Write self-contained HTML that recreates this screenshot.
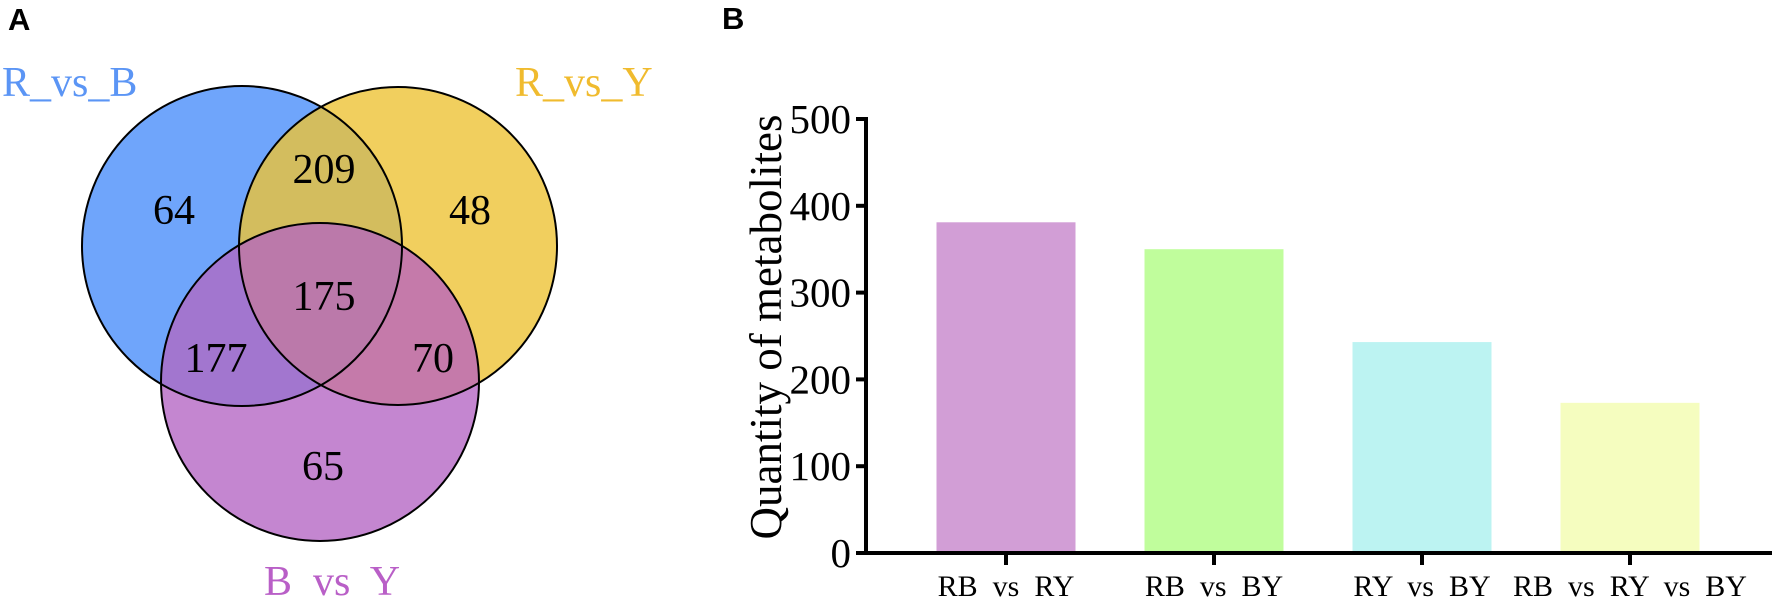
<!DOCTYPE html>
<html><head><meta charset="utf-8"><style>
html,body{margin:0;padding:0;background:#fff;}
svg{display:block;}
text{font-family:"Liberation Serif",serif;}
.pl{font-family:"Liberation Sans",sans-serif;font-weight:bold;font-size:31px;}
</style></head><body>
<svg id="fig" width="1772" height="599" viewBox="0 0 1772 599">
<defs>
<clipPath id="cR"><circle cx="242" cy="246" r="160"/></clipPath>
<clipPath id="cY"><circle cx="398" cy="246" r="159"/></clipPath>
<clipPath id="cP"><circle cx="320" cy="382" r="159"/></clipPath>
</defs>
<text class="pl" x="8" y="30">A</text>
<text class="pl" x="722" y="29">B</text>
<g>
<circle cx="242" cy="246" r="160" fill="#6fa5fb"/>
<circle cx="398" cy="246" r="159" fill="#f1cf5e"/>
<circle cx="320" cy="382" r="159" fill="#c486d0"/>
<circle cx="398" cy="246" r="159" fill="#d3bd5e" clip-path="url(#cR)"/>
<circle cx="320" cy="382" r="159" fill="#a276cf" clip-path="url(#cR)"/>
<circle cx="320" cy="382" r="159" fill="#c57aaa" clip-path="url(#cY)"/>
<g clip-path="url(#cR)"><circle cx="320" cy="382" r="159" fill="#bb79aa" clip-path="url(#cY)"/></g>
<g fill="none" stroke="#000" stroke-width="2">
<circle cx="242" cy="246" r="160"/><circle cx="398" cy="246" r="159"/><circle cx="320" cy="382" r="159"/>
</g>
<g font-size="42" text-anchor="middle" fill="#000">
<text x="174" y="224">64</text>
<text x="324" y="183">209</text>
<text x="470" y="224">48</text>
<text x="324" y="310">175</text>
<text x="216" y="372">177</text>
<text x="433" y="372">70</text>
<text x="323" y="480">65</text>
</g>
<text x="2" y="96" font-size="42" fill="#5b95f5">R_vs_B</text>
<text x="515" y="96" font-size="42" fill="#f0bb2e">R_vs_Y</text>
<text x="264" y="595" font-size="42" fill="#b95fc7" xml:space="preserve">B  vs  Y</text>
</g>
<g id="bars"></g>
</svg>
<script>
const categories = ["RB  vs  RY","RB  vs  BY","RY  vs  BY","RB  vs  RY  vs  BY"];
const values = [381, 350, 243, 173];
const barColors = ["#d29ed6","#c0fd9c","#bcf3f2","#f5fdbf"];
const yTicks = [0,100,200,300,400,500];

const NS="http://www.w3.org/2000/svg";
const g=document.getElementById('bars');
const x0=866, y0=553, y500=119, step=208, first=1006, bw=139;
const yScale=v=>y0-(v/500)*(y0-y500);
const xScale=i=>first+i*step;
function mk(tag,attrs){const e=document.createElementNS(NS,tag);for(const k in attrs)e.setAttribute(k,attrs[k]);g.appendChild(e);return e;}
values.forEach((v,i)=>{
  const r=mk('rect',{x:xScale(i)-bw/2,y:yScale(v),width:bw,height:y0-yScale(v),fill:barColors[i]});
  
  
});
const ya=mk('line',{x1:x0,y1:y500-2,x2:x0,y2:y0+2,stroke:'#000','stroke-width':4});


const xa=mk('line',{x1:x0-2,y1:y0,x2:1772,y2:y0,stroke:'#000','stroke-width':4});


yTicks.forEach(t=>{
  const y=yScale(t);
  mk('line',{x1:856,y1:y,x2:x0,y2:y,stroke:'#000','stroke-width':4});
  const tx=mk('text',{x:851,y:y+14,'font-size':41,'text-anchor':'end'});
  tx.textContent=t;
  
  
});
categories.forEach((c,i)=>{
  const x=xScale(i);
  mk('line',{x1:x,y1:y0,x2:x,y2:y0+12,stroke:'#000','stroke-width':4});
  const tx=mk('text',{x:x,y:596,'font-size':30,'text-anchor':'middle'});
  tx.setAttribute('xml:space','preserve');
  tx.style.whiteSpace='pre';
  tx.textContent=c;
  
  
});
const yt=mk('text',{x:0,y:0,'font-size':45,'text-anchor':'middle',transform:'translate(781,327) rotate(-90)'});
yt.textContent='Quantity of metabolites';


</script>
</body></html>
